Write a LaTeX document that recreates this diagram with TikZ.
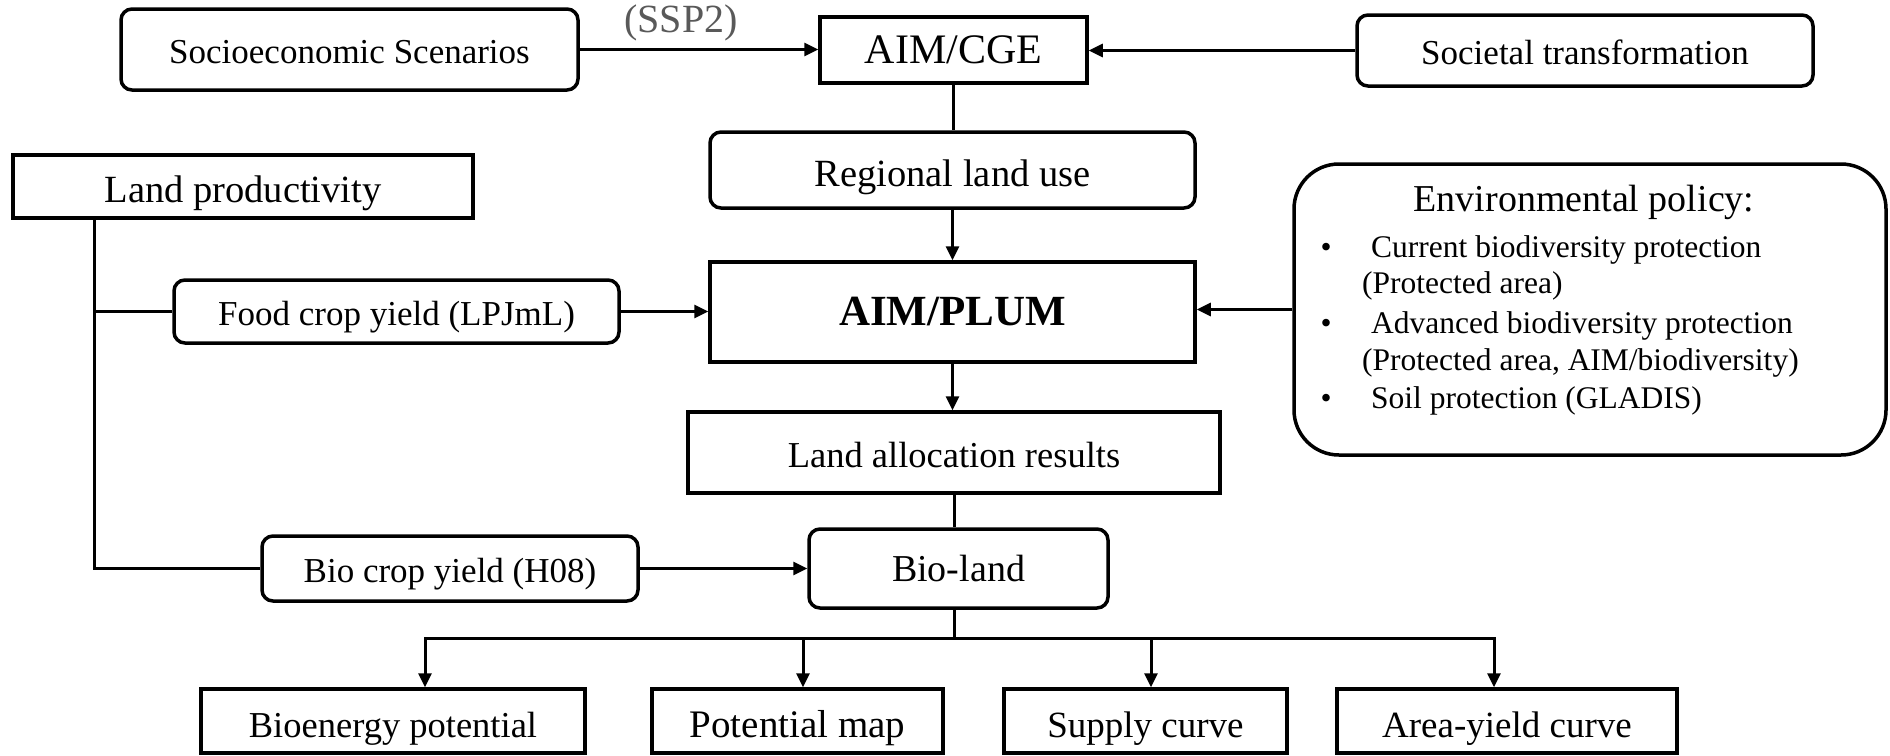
\documentclass[tikz,border=0pt]{standalone}
\usepackage{fontspec}
\setmainfont{Liberation Serif}
\usetikzlibrary{arrows.meta}
\newcommand{\fsz}[1]{\fontsize{#1}{#1}\selectfont}
\definecolor{sspgray}{HTML}{595959}
\begin{document}
\begin{tikzpicture}[x=1pt,y=-1pt,
  box/.style={draw, line width=3.5pt, inner sep=0pt, align=center},
  rbox/.style={box, rounded corners=11pt},
  tmid/.style={text height=27pt, text depth=0pt},
  tlow/.style={text height=33pt, text depth=0pt},
  conn/.style={line width=3pt},
  arr/.style={conn, -{Triangle[length=14pt,width=13pt]}},
  envtxt/.style={font=\fsz{31.5}, inner sep=0pt},
]
\useasboundingbox (0,0) rectangle (1890,755);

% top row
\node[rbox, tmid, minimum width=457pt, minimum height=81pt, font=\fsz{35}] (socio) at (349.5,49.5) {Socioeconomic Scenarios};
\node[box, minimum width=267pt, minimum height=66pt, font=\fsz{42}] (cge) at (953.5,50) {AIM/CGE};
\node[rbox, tmid, minimum width=456pt, minimum height=71pt, font=\fsz{35}] (soc) at (1585,50.5) {Societal transformation};
\node[anchor=base, font=\fsz{40}, text=sspgray, inner sep=0pt] (ssp) at (681,32) {(SSP2)};

% middle column
\node[rbox, tlow, minimum width=485pt, minimum height=76pt, font=\fsz{38.5}] (rlu) at (952.5,170) {Regional land use};
\node[box, minimum width=485pt, minimum height=100pt, font=\fsz{43}\bfseries] (plum) at (952.5,312) {AIM/PLUM};
\node[box, text height=29pt, text depth=0pt, minimum width=532pt, minimum height=81pt, font=\fsz{36.5}] (alloc) at (954,452.5) {Land allocation results};
\node[rbox, minimum width=299pt, minimum height=79pt, font=\fsz{38}] (bioland) at (958.5,568.5) {Bio-land};

% left side
\node[box, text height=31pt, text depth=0pt, minimum width=460pt, minimum height=63pt, font=\fsz{38.5}] (landprod) at (243,186.5) {Land productivity};
\node[rbox, tmid, minimum width=445pt, minimum height=63pt, font=\fsz{35}] (food) at (396.5,311.5) {Food crop yield (LPJmL)};
\node[rbox, tmid, minimum width=376pt, minimum height=65pt, font=\fsz{35}] (biocrop) at (450,568.5) {Bio crop yield (H08)};

% environmental policy
\node[box, rounded corners=45pt, minimum width=592pt, minimum height=291pt] (env) at (1590,309.5) {};
\node[anchor=base, font=\fsz{38}, inner sep=0pt] (envt) at (1584,211) {Environmental policy:};
\node[anchor=base, envtxt] (b1) at (1326,257) {•};
\node[anchor=base west, envtxt] (e1) at (1371,257) {Current biodiversity protection};
\node[anchor=base west, envtxt] (e2) at (1362,293) {(Protected area)};
\node[anchor=base, envtxt] (b2) at (1326,333) {•};
\node[anchor=base west, envtxt] (e3) at (1371,333) {Advanced biodiversity protection};
\node[anchor=base west, envtxt] (e4) at (1362,370) {(Protected area, AIM/biodiversity)};
\node[anchor=base, envtxt] (b3) at (1326,408) {•};
\node[anchor=base west, envtxt] (e5) at (1371,408) {Soil protection (GLADIS)};

% bottom row
\node[box, tlow, minimum width=384pt, minimum height=64pt, font=\fsz{36.5}] (bep) at (393,721) {Bioenergy potential};
\node[box, tlow, minimum width=291pt, minimum height=64pt, font=\fsz{39}] (pmap) at (797.5,721) {Potential map};
\node[box, tlow, minimum width=283pt, minimum height=64pt, font=\fsz{37}] (supply) at (1145.5,721) {Supply curve};
\node[box, tlow, minimum width=340pt, minimum height=64pt, font=\fsz{37}] (ayc) at (1507,721) {Area-yield curve};

% connectors
\draw[arr] (socio.east) -- (socio.east -| cge.west);
\draw[arr] (soc.west) -- (soc.west -| cge.east);
\draw[conn] (cge.south) -- (cge.south |- rlu.north);
\draw[arr] (rlu.south) -- (rlu.south |- plum.north);
\draw[arr] (food.east) -- (food.east -| plum.west);
\draw[arr] (env.west) -- (env.west -| plum.east);
\draw[arr] (plum.south) -- (plum.south |- alloc.north);
\draw[conn] (alloc.south) -- (alloc.south |- bioland.north);
\draw[arr] (biocrop.east) -- (biocrop.east -| bioland.west);

\coordinate (trunk) at (94,0);
\draw[conn] (landprod.south -| trunk) |- (biocrop.west);
\draw[conn] (trunk |- food.west) -- (food.west);

\coordinate (dl) at (425,638);
\coordinate (d2) at (803,638);
\coordinate (d3) at (1151,638);
\coordinate (dr) at (1494,638);
\draw[conn] (bioland.south -| alloc.south) -- (alloc.south |- dl);
\draw[conn, line cap=rect] (dl) -- (dr);
\draw[arr] (dl) -- (dl |- bep.north);
\draw[arr] (d2) -- (d2 |- pmap.north);
\draw[arr] (d3) -- (d3 |- supply.north);
\draw[arr] (dr) -- (dr |- ayc.north);
\end{tikzpicture}
\end{document}
